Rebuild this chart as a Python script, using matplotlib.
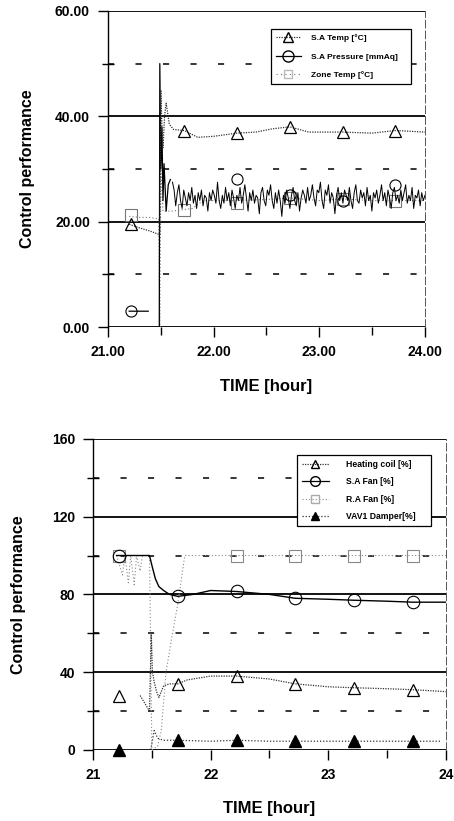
import numpy as np
import matplotlib
matplotlib.use('Agg')
import matplotlib.pyplot as plt
from matplotlib.ticker import MultipleLocator, FormatStrFormatter

plt.rcParams.update({
    'font.family': ['Liberation Sans', 'DejaVu Sans'],
    'font.weight': 'bold',
    'axes.labelweight': 'bold',
})

# ---------------- top panel data ----------------
sat_t = [21.20, 21.30, 21.40, 21.49, 21.50, 21.51, 21.52, 21.535, 21.55, 21.58, 21.62, 21.72,
         21.85, 22.0, 22.22, 22.40, 22.55, 22.72, 22.90, 23.22, 23.50, 23.72, 24.0]
sat_v = [19.5, 18.8, 18.2, 17.5, 45.0, 38.0, 34.0, 40.0, 42.5, 38.5, 37.5, 37.3,
         36.0, 36.2, 36.8, 37.0, 37.6, 38.0, 37.0, 37.0, 36.8, 37.3, 37.0]
sat_mk = [21.22, 21.72, 22.22, 22.72, 23.22, 23.72]
sat_mv = [19.5, 37.3, 36.8, 38.0, 37.0, 37.3]

prs_head_t = [21.20, 21.38, np.nan, 21.485, 21.49, 21.50, 21.51, 21.52, 21.53, 21.55, 21.57, 21.59]
prs_head_v = [3.0, 3.0, np.nan, 0.0, 50.0, 30.0, 38.0, 24.0, 31.0, 22.0, 27.0, 28.0]
prs_noise = [27.5, 26, 23, 25.5, 27, 24, 22.5, 26, 24.5, 23, 25.5, 24, 26.5, 23.5, 25, 22.5,
             25.5, 24, 26, 23, 25, 24.5, 22, 25.5, 24, 26, 25, 23.5, 27.5, 24, 22.5, 25,
             23.5, 26.5, 24, 25.5, 23, 26, 24.5, 22.5, 25, 24, 26.5, 23.5, 25, 27, 24.5, 22,
             25.5, 24, 26, 23.5, 25, 24.5, 21.5, 25.5, 26.5, 24, 23, 26, 25, 27, 24, 22.5,
             25.5, 23.5, 26, 24, 21, 25, 23.5, 26, 24.5, 22.5, 25, 26.5, 24, 23, 25.5, 22,
             24.5, 26, 25, 23.5, 26.5, 24, 25, 27, 24.5, 23, 26, 25.5, 27.5, 24, 22.5, 26,
             25, 27, 23.5, 25.5, 24.5, 21.5, 25, 26.5, 24, 25.5, 23.5, 26, 25, 24,
             26.5, 24, 22.5, 25.5, 27, 24, 23.5, 26, 24.5, 25.5, 23, 26.5, 24, 25, 22, 25.5,
             24.5, 26, 23.5, 25, 27, 24, 25.5, 23, 26, 24.5, 22.5, 25.5, 26.5, 24, 25, 23.5,
             26, 24, 25.5, 27, 23.5, 25, 24, 26.5, 22.5, 25, 24.5, 26, 23, 25.5, 24, 25]
prs_mk = [21.22, 22.22, 22.72, 23.22, 23.72]
prs_mv = [3.0, 28.0, 25.0, 24.0, 27.0]

zone_t = [21.20, 21.30, 21.40, 21.48, 21.49, 21.50, 21.52, 21.60, 21.72, 21.80, 21.90,
          22.2, 22.5, 22.72, 23.0, 23.22, 23.5, 23.72, 24.0]
zone_v = [21.0, 20.8, 20.8, 20.5, 0.0, 30.0, 22.0, 22.0, 22.3, 22.5, 24.0,
          24.0, 24.2, 24.5, 24.0, 24.3, 24.0, 24.0, 24.0]
zone_mk = [21.22, 21.72, 22.22, 22.72, 23.22, 23.72]
zone_mv = [21.2, 22.3, 23.5, 24.5, 24.3, 24.0]

# ---------------- bottom panel data ----------------
hc_t = [21.40, 21.48, 21.495, 21.505, 21.52, 21.54, 21.56, 21.60, 21.65, 21.72, 21.80,
        22.0, 22.22, 22.50, 22.72, 23.0, 23.22, 23.50, 23.72, 24.0]
hc_v = [28, 20, 60, 40, 35, 30, 27, 33, 34, 34, 36,
        38, 38, 36.5, 34, 32.5, 32, 31.5, 31, 30]
hc_mk = [21.22, 21.72, 22.22, 22.72, 23.22, 23.72]
hc_mv = [28, 34, 38, 34, 32, 31]

saf_t = [21.20, 21.48, 21.50, 21.53, 21.56, 21.60, 21.65, 21.72, 21.85, 22.0, 22.22,
         22.50, 22.72, 23.0, 23.22, 23.50, 23.72, 24.0]
saf_v = [100, 100, 95, 88, 84, 82, 80, 79, 80, 82, 81.5,
         80, 78, 77.5, 77, 76.5, 76, 76]
saf_mk = [21.22, 21.72, 22.22, 22.72, 23.22, 23.72]
saf_mv = [100, 79, 81.5, 78, 77, 76]

raf_t = [21.20, 21.25, 21.27, 21.30, 21.32, 21.35, 21.37, 21.40, 21.42, 21.48, 21.50,
         21.55, 21.58, 21.62, 21.67, 21.72, 21.78, 21.95, 22.2, 22.5, 22.72, 23.0, 23.22,
         23.5, 23.72, 24.0]
raf_v = [100, 90, 100, 86, 100, 85, 100, 92, 100, 100, 0,
         2, 10, 40, 58, 75, 100, 100, 100, 100, 100, 100, 100,
         100, 100, 100]
raf_mk = [21.22, 22.22, 22.72, 23.22, 23.72]
raf_mv = [100, 100, 100, 100, 100]

vav_t = [21.20, 21.49, 21.52, 21.55, 21.60, 21.72, 22.0, 22.22, 22.5, 22.72, 23.0,
         23.22, 23.5, 23.72, 23.95]
vav_v = [0, 0, 10, 6, 5, 5, 4.5, 5, 4.5, 4.5, 4.5,
         4.5, 4.5, 4.5, 4.5]
vav_mk = [21.22, 21.72, 22.22, 22.72, 23.22, 23.72]
vav_mv = [0, 5, 5, 4.5, 4.5, 4.5]

fig = plt.figure(figsize=(4.54, 8.21), dpi=100)
ax1 = fig.add_axes([0.238, 0.6017, 0.698, 0.385])
ax2 = fig.add_axes([0.205, 0.0865, 0.777, 0.379])


def style_axes(ax, ymax, ymaj, ymin, fmt):
    ax.set_xlim(21, 24)
    ax.set_ylim(0, ymax)
    for y in np.arange(0, ymax + 0.1, ymaj):
        ax.axhline(y, color='black', lw=1.3, zorder=1)
    for y in np.arange(ymin, ymax, ymaj):
        ax.axhline(y, color='black', lw=1.1, ls=(0, (4, 14)), zorder=1)
    ax.spines['top'].set_visible(False)
    ax.spines['bottom'].set_visible(False)
    ax.spines['left'].set_linewidth(1.0)
    ax.spines['right'].set_linewidth(0.7)
    ax.spines['right'].set_color('#555555')
    ax.spines['right'].set_linestyle((0, (8, 3)))
    ax.xaxis.set_major_locator(MultipleLocator(1))
    ax.xaxis.set_minor_locator(MultipleLocator(0.5))
    ax.yaxis.set_major_locator(MultipleLocator(ymaj))
    ax.yaxis.set_minor_locator(MultipleLocator(ymaj / 2))
    ax.xaxis.set_major_formatter(FormatStrFormatter(fmt))
    ax.yaxis.set_major_formatter(FormatStrFormatter(fmt))
    ax.tick_params(axis='both', which='major', direction='out', length=7, width=1.0,
                   labelsize=10, pad=6)
    ax.tick_params(axis='y', which='minor', direction='inout', length=9, width=1.0)
    ax.tick_params(axis='x', which='minor', direction='out', length=6, width=1.0)
    for lab in ax.get_xticklabels() + ax.get_yticklabels():
        lab.set_fontweight('bold')
    ax.set_ylabel('Control performance', fontsize=11.5, fontweight='bold')
    ax.set_xlabel('TIME [hour]', fontsize=12, fontweight='bold', labelpad=14)


# ---------- top ----------
style_axes(ax1, 60, 20, 10, '%.2f')
ax1.plot(zone_t, zone_v, color='#777777', lw=0.8, ls=(0, (1, 2)), zorder=3)
ax1.plot(zone_mk, zone_mv, ls='none', marker='s', ms=8, mfc='none', mec='#777777',
         mew=0.8, zorder=3)
prs_t = np.linspace(21.61, 24.0, len(prs_noise))
ax1.plot(prs_head_t, prs_head_v, color='black', lw=0.9, zorder=4)
ax1.plot(prs_t, prs_noise, color='black', lw=0.7, zorder=4)
ax1.plot(prs_mk, prs_mv, ls='none', marker='o', ms=8, mfc='none', mec='black',
         mew=0.8, zorder=4, clip_on=False)
ax1.plot(sat_t, sat_v, color='#333333', lw=0.9, ls=(0, (1, 1)), zorder=5)
ax1.plot(sat_mk, sat_mv, ls='none', marker='^', ms=8, mfc='none', mec='black',
         mew=0.9, zorder=5)

h1 = [ax1.plot([], [], color='#333333', lw=0.9, ls=(0, (1, 1)), marker='^', ms=7,
               mfc='none', mec='black')[0],
      ax1.plot([], [], color='black', lw=0.9, marker='o', ms=8, mfc='none', mec='black')[0],
      ax1.plot([], [], color='#777777', lw=0.8, ls=(0, (1, 3)), marker='s', ms=6,
               mfc='none', mec='#bbbbbb')[0]]
leg1 = ax1.legend(h1, ['S.A Temp [°C]', 'S.A Pressure [mmAq]', 'Zone Temp [°C]'],
                  loc='upper left', bbox_to_anchor=(0.50, 0.778, 0.468, 0.178),
                  mode='expand', fontsize=6, frameon=True, fancybox=False,
                  edgecolor='black', framealpha=1, handlelength=3.0,
                  borderpad=0.6, labelspacing=1.3, handletextpad=1.3)
leg1.get_frame().set_linewidth(0.9)
for t in leg1.get_texts():
    t.set_fontweight('bold')

# ---------- bottom ----------
style_axes(ax2, 160, 40, 20, '%d')
ax2.plot(raf_t, raf_v, color='#888888', lw=0.8, ls=(0, (1, 2)), zorder=3)
ax2.plot(raf_mk, raf_mv, ls='none', marker='s', ms=9, mfc='none', mec='#888888',
         mew=0.8, zorder=3)
ax2.plot(saf_t, saf_v, color='black', lw=1.0, zorder=4)
ax2.plot(saf_mk, saf_mv, ls='none', marker='o', ms=9, mfc='none', mec='black',
         mew=0.8, zorder=4)
ax2.plot(hc_t, hc_v, color='#333333', lw=0.9, ls=(0, (1, 1)), zorder=5)
ax2.plot(hc_mk, hc_mv, ls='none', marker='^', ms=8, mfc='none', mec='black',
         mew=0.9, zorder=5)
ax2.plot(vav_t, vav_v, color='#333333', lw=0.9, ls=(0, (1, 1.5)), zorder=5)
ax2.plot(vav_mk, vav_mv, ls='none', marker='^', ms=8, mfc='black', mec='black', zorder=6,
         clip_on=False)

h2 = [ax2.plot([], [], color='#333333', lw=0.9, ls=(0, (1, 1)), marker='^', ms=6,
               mfc='none', mec='black')[0],
      ax2.plot([], [], color='black', lw=0.9, marker='o', ms=7, mfc='none', mec='black')[0],
      ax2.plot([], [], color='#888888', lw=0.8, ls=(0, (1, 2)), marker='s', ms=6,
               mfc='none', mec='#aaaaaa')[0],
      ax2.plot([], [], color='#333333', lw=0.9, ls=(0, (1, 1.5)), marker='^', ms=6,
               mfc='black', mec='black')[0]]
leg2 = ax2.legend(h2, ['Heating coil [%]', 'S.A Fan [%]', 'R.A Fan [%]', 'VAV1 Damper[%]'],
                  loc='upper left', bbox_to_anchor=(0.567, 0.723, 0.402, 0.238),
                  mode='expand', fontsize=6.2, frameon=True, fancybox=False,
                  edgecolor='black', framealpha=1, handlelength=3.2,
                  borderpad=0.5, labelspacing=1.0, handletextpad=2.0)
leg2.get_frame().set_linewidth(0.9)
for t in leg2.get_texts():
    t.set_fontweight('bold')

ax1.yaxis.set_label_coords(-0.23, 0.5)
ax2.yaxis.set_label_coords(-0.19, 0.5)

fig.savefig('out.png', dpi=100)
